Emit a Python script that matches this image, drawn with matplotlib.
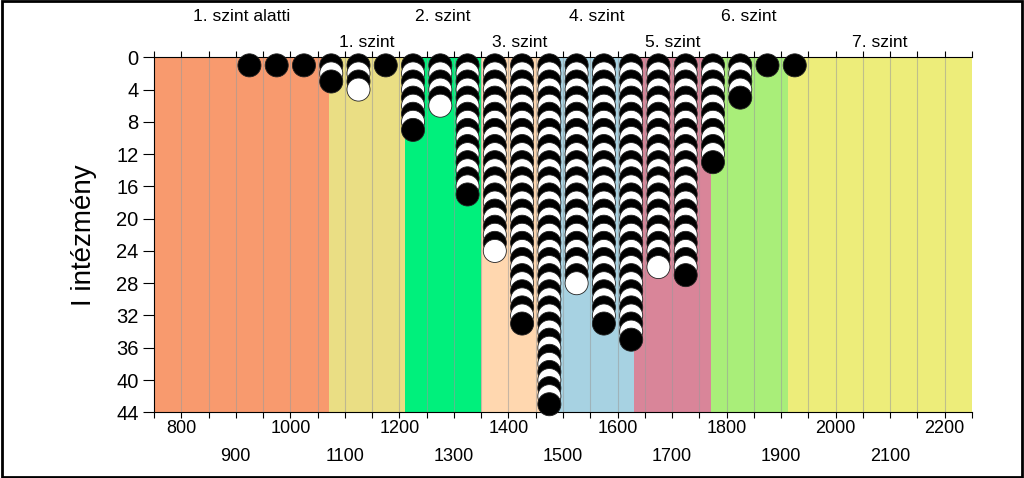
import matplotlib
matplotlib.use("Agg")
import matplotlib.pyplot as plt
from matplotlib.ticker import FixedLocator, FuncFormatter
from matplotlib.patches import Rectangle
import matplotlib.transforms as mtransforms

plt.rcParams['font.family'] = ['Liberation Sans', 'DejaVu Sans']

# ---- data ----
band_edges = [750, 1070, 1210, 1350, 1491, 1631, 1771, 1912, 2250]
band_names = ["1. szint alatti", "1. szint", "2. szint", "3. szint",
              "4. szint", "5. szint", "6. szint", "7. szint"]
band_colors = ["#F89A6E", "#EADE84", "#00F07C", "#FFD7AF",
               "#A7D2E2", "#D98599", "#A9EE79", "#EDED7A"]

col_x = [925, 975, 1025, 1075, 1125, 1175, 1225, 1275, 1325, 1375, 1425,
         1475, 1525, 1575, 1625, 1675, 1725, 1775, 1825, 1875, 1925]
col_counts = [1, 1, 1, 3, 4, 1, 9, 6, 17, 24, 33,
              43, 28, 33, 35, 26, 27, 13, 5, 1, 1]

y_ticks = list(range(0, 45, 4))
x_major_labels = [800, 1000, 1200, 1400, 1600, 1800, 2000, 2200]
x_second_row = [900, 1100, 1300, 1500, 1700, 1900, 2100]

# ---- figure ----
fig = plt.figure(figsize=(10.24, 4.78), dpi=100)
ax = fig.add_axes([154/1024, 1 - 412.3/478, (972 - 154)/1024, (412.3 - 57.3)/478])

for i, name in enumerate(band_names):
    ax.axvspan(band_edges[i], band_edges[i + 1], color=band_colors[i], zorder=0, lw=0)

# gridlines every 50
for g in range(800, 2250, 50):
    ax.axvline(g, color="#9a9a9a", lw=0.8, alpha=0.55, zorder=1)

# stacked circles
xs, ys, fcs = [], [], []
for x, n in zip(col_x, col_counts):
    for k in range(1, n + 1):
        xs.append(x)
        ys.append(k)
        fcs.append("black" if k % 2 == 1 else "white")
ax.scatter(xs, ys, s=16.6**2, c=fcs, edgecolors="#222222", linewidths=0.6,
           zorder=3, clip_on=False)

ax.set_xlim(band_edges[0], band_edges[-1])
ax.set_ylim(44, 0)

ax.set_yticks(y_ticks)
ax.set_yticklabels([str(v) for v in y_ticks], fontsize=14.5)
ax.tick_params(axis='y', direction='out', length=8, width=0.8, pad=3)

ax.xaxis.set_major_locator(FixedLocator(x_major_labels))
ax.xaxis.set_major_formatter(FuncFormatter(lambda v, p: f"{int(round(v))}"))
minor_pos = [v for v in range(750, 2251, 50) if v not in x_major_labels]
ax.xaxis.set_minor_locator(FixedLocator(minor_pos))
ax.xaxis.set_minor_formatter(FuncFormatter(
    lambda v, p: f"{int(round(v))}" if int(round(v)) in x_second_row else ""))
ax.tick_params(axis='x', which='both', direction='out', length=4, width=0.8,
               top=True, bottom=True, labelsize=13)
ax.tick_params(axis='x', which='major', pad=1.5)
ax.tick_params(axis='x', which='minor', pad=22)

ax.spines['right'].set_visible(False)
for s in ['left', 'top', 'bottom']:
    ax.spines[s].set_linewidth(0.8)

ax.set_ylabel("I intézmény", fontsize=20, labelpad=14)

# band labels above
trans = mtransforms.blended_transform_factory(ax.transData, ax.transAxes)
for i, name in enumerate(band_names):
    cx = (band_edges[i] + band_edges[i + 1]) / 2
    yy = 1 + (41.3 / 355 if i % 2 == 0 else 15.3 / 355)
    ax.text(cx, yy, name, transform=trans, ha='center', va='center',
            fontsize=12.6, clip_on=False)

fig.patches.append(Rectangle((0.0015, 0.003), 0.997, 0.994, transform=fig.transFigure,
                             fill=False, edgecolor="black", lw=2))

fig.savefig("out.png", dpi=100)
